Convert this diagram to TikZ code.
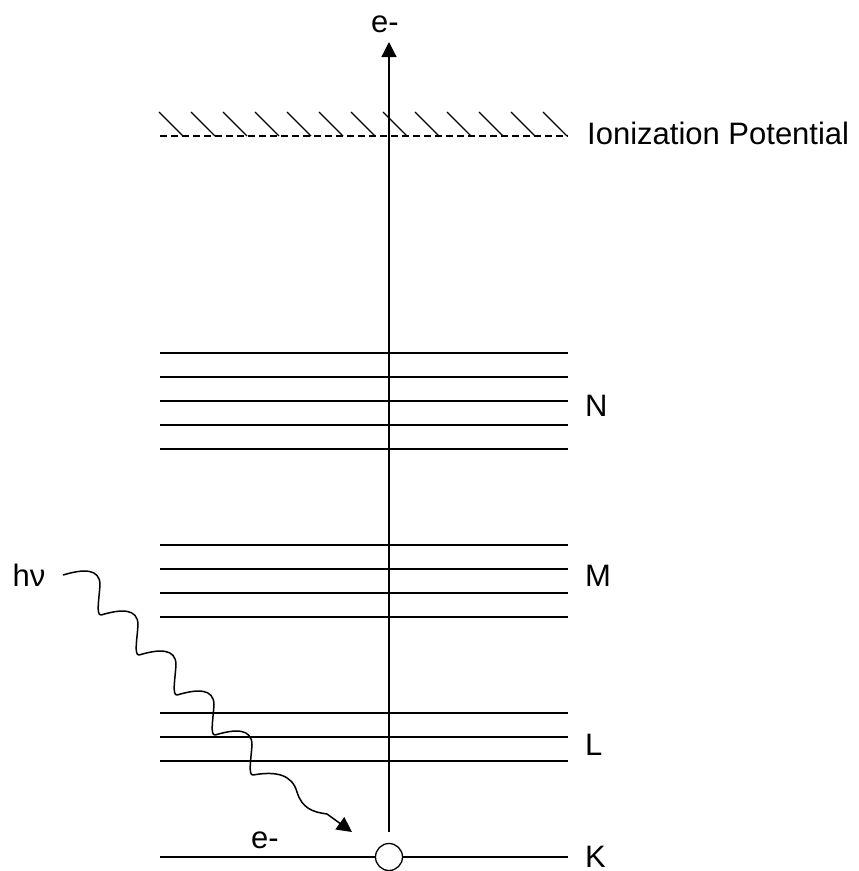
\documentclass[tikz,border=0pt]{standalone}
\usepackage{fontspec}
\setmainfont{Liberation Sans}
\usetikzlibrary{arrows.meta}

\begin{document}
\begin{tikzpicture}[x=1pt, y=-1pt,
  level/.style={line width=1.7pt},
  thin line/.style={line width=1.3pt},
  label/.style={font=\fontsize{31}{31}\selectfont, inner sep=0pt},
  tip/.style={-{Triangle[length=15pt,width=15pt]}}
]
\useasboundingbox (0,0) rectangle (859,871);

% ionization limit: dashed line with hatching above it
\draw[thin line, dash pattern=on 7pt off 4pt] (160,136) -- (568,136);
\foreach \k in {0,...,12}
  \draw[thin line] (159+32*\k,112) -- (183+32*\k,136);
\node[label, anchor=west] (ip) at (587,133) {Ionization Potential};

% N shell
\foreach \y in {353,377,401,425,449}
  \draw[level] (160,\y) -- (568,\y);
\node[label, anchor=west] (N) at (585,406) {N};

% M shell
\foreach \y in {545,569,593,617}
  \draw[level] (160,\y) -- (568,\y);
\node[label, anchor=west] (M) at (585,576) {M};

% L shell
\foreach \y in {713,737,761}
  \draw[level] (160,\y) -- (568,\y);
\node[label, anchor=west] (L) at (585,745) {L};

% K shell with the bound electron
\draw[level] (160,857) -- (568,857);
\node[label, anchor=west] (K) at (585,857) {K};
\node[draw, thin line, fill=white, circle, minimum size=27pt, inner sep=0pt] (elec) at (389,857) {};
\node[label] (ek) at (265,840) {e-};

% ejected electron
\coordinate (top) at (389,42);
\draw[thin line, tip, shorten <=11pt] (elec.north) -- (top);
\node[label] (etop) at (385,24) {e-};

% incoming photon
\node[label] (hnu) at (29,575) {hν};
\coordinate (w0) at (63,575);
\coordinate (w5) at (253,775);
\coordinate (wend) at (352,832);
\draw[line width=1.5pt, line join=round, tip]
  (w0)
  \foreach \i in {0,...,4} {
    .. controls ({63+38*\i+20},{575+40*\i-6}) and ({63+38*\i+37},{575+40*\i-7}) .. ({63+38*\i+37},{575+40*\i+10})
    .. controls ({63+38*\i+36},{575+40*\i+25}) and ({63+38*\i+33},{575+40*\i+40}) .. ({63+38*\i+38},{575+40*\i+40})
  }
  .. controls (275,771) and (292,774) .. (297,792)
  .. controls (302,808) and (312,812) .. (327,814)
  -- (wend);
\end{tikzpicture}
\end{document}
